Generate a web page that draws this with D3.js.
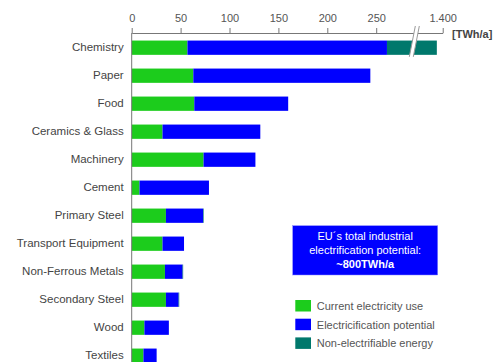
<!DOCTYPE html>
<html>
<head>
<meta charset="utf-8">
<script src="https://cdn.jsdelivr.net/npm/d3@7"></script>
<style>
  body { margin: 0; background: #fff; }
  svg { display: block; font-family: "Liberation Sans", Arial, sans-serif; }
</style>
</head>
<body>
<svg id="chart" width="501" height="362"></svg>
<script>
// --- Datos ---
const categories = ["Chemistry", "Paper", "Food", "Ceramics & Glass", "Machinery", "Cement",
  "Primary Steel", "Transport Equipment", "Non-Ferrous Metals", "Secondary Steel", "Wood", "Textiles"];
const currentUse = [57, 63, 64, 31.5, 73.5, 8, 35, 31.5, 34, 35, 13, 12];
const potential = [204, 181, 96, 100, 53, 71, 38, 22, 18, 13, 25, 13.5];
const nonElectrifiable = [1133, 0, 0, 0, 0, 0, 0.6, 0, 0.6, 0.6, 0, 0];
const tickValues = [0, 50, 100, 150, 200, 250, 1400];
const tickLabels = ["0", "50", "100", "150", "200", "250", "1.400"];
const seriesNames = ["Current electricity use", "Electricification potential", "Non-electrifiable energy"];
const colors = ["#1ccc1c", "#0000ff", "#00786c"];

const svg = d3.select("#chart");
const axisY = 33;
const x0 = 131.7;

// escala con corte: 0-290 lineal, luego salto hasta 1372
const x = d3.scaleLinear()
  .domain([0, 290, 1372, 1400])
  .range([x0, x0 + 290 * 0.978, x0 + 290 * 0.978, x0 + 290 * 0.978 + 28 * 0.978]);

const y = d3.scaleBand()
  .domain(categories)
  .range([axisY + 0.7, axisY + 0.7 + 12 * 28])
  .paddingInner(0.49)
  .paddingOuter(0.245);

const rows = categories.map((c, i) => {
  const vals = [currentUse[i], potential[i], nonElectrifiable[i]];
  let acc = 0;
  return vals.map((v, k) => {
    const seg = { cat: c, k, start: acc, end: acc + v };
    acc += v;
    return seg;
  });
}).flat();

svg.append("g").selectAll("rect")
  .data(rows.filter(d => d.end > d.start))
  .join("rect")
  .attr("x", d => x(d.start))
  .attr("width", d => x(d.end) - x(d.start))
  .attr("y", d => y(d.cat))
  .attr("height", y.bandwidth())
  .attr("fill", d => colors[d.k]);

// eje superior
const axis = svg.append("g").attr("transform", `translate(0,${axisY})`)
  .call(d3.axisTop(x).tickValues(tickValues).tickFormat((d, i) => tickLabels[i]).tickSize(5).tickSizeOuter(0));
axis.select(".domain").attr("stroke", "#777");
axis.selectAll(".tick line").attr("stroke", "#777");
axis.selectAll(".tick text").attr("fill", "#555").attr("font-size", 11).attr("dy", "-0.25em");

// eje izquierdo
const yAxis = svg.append("g").attr("transform", `translate(${x0},0)`)
  .call(d3.axisLeft(y).tickSize(0).tickPadding(8));
yAxis.select(".domain").attr("d", `M0,${axisY}V362`).attr("stroke", "#777");
yAxis.selectAll(".tick text").attr("fill", "#444").attr("font-size", 11.5);

// marcas del corte
const bx = x(290);
const yTop = axisY - 7;
const yBot = y("Chemistry") + y.bandwidth() + 2;
const brk = svg.append("g");
brk.append("polygon")
  .attr("points", `${bx - 6},${yBot} ${bx},${yTop} ${bx + 4},${yTop} ${bx - 2},${yBot}`)
  .attr("fill", "#fff");
[-6, -2].forEach(o => {
  brk.append("line")
    .attr("x1", bx + o).attr("y1", yBot)
    .attr("x2", bx + o + 6).attr("y2", yTop)
    .attr("stroke", "#999").attr("stroke-width", 1);
});

svg.append("text").attr("x", 452).attr("y", 38)
  .attr("font-size", 11).attr("font-weight", "bold").attr("fill", "#444")
  .text("[TWh/a]");

// recuadro
svg.append("rect").attr("x", 292.7).attr("y", 225.7).attr("width", 145).attr("height", 49.3)
  .attr("fill", "#0000ff").attr("stroke", "#8888ff").attr("stroke-width", 0.5);
const boxLines = ["EU´s total industrial", "electrification potential:", "~800TWh/a"];
svg.append("g").selectAll("text").data(boxLines).join("text")
  .attr("x", 365.2).attr("y", (d, i) => 240 + i * 14)
  .attr("text-anchor", "middle").attr("font-size", 11).attr("fill", "#fff")
  .attr("font-weight", (d, i) => i === 2 ? "bold" : "normal")
  .text(d => d);

// leyenda
const leg = svg.append("g").selectAll("g").data(seriesNames).join("g")
  .attr("transform", (d, i) => `translate(295.3,${300 + i * 18.7})`);
leg.append("rect").attr("width", 15.7).attr("height", 11.5).attr("fill", (d, i) => colors[i]);
leg.append("text").attr("x", 21.5).attr("y", 10).attr("font-size", 11).attr("fill", "#555").text(d => d);
</script>
</body>
</html>
